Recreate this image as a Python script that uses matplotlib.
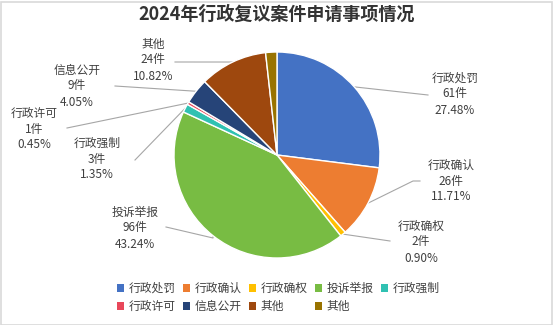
import matplotlib
matplotlib.use('Agg')
import matplotlib.pyplot as plt
from matplotlib.patches import Rectangle
import numpy as np

plt.rcParams['font.family'] = ['Noto Sans CJK SC', 'DejaVu Sans']

# data
categories = ['行政处罚', '行政确认', '行政确权', '投诉举报', '行政强制',
              '行政许可', '信息公开', '其他', '其他']
counts = [61, 26, 2, 96, 3, 1, 9, 24, 4]
pct_labels = ['27.48%', '11.71%', '0.90%', '43.24%', '1.35%',
              '0.45%', '4.05%', '10.82%', None]
colors = ['#4472C4', '#ED7D31', '#FFC000', '#78BC43', '#30C1B2',
          '#E8475A', '#264478', '#9E480E', '#997300']

W, H = 554, 325
fig = plt.figure(figsize=(W / 100, H / 100), dpi=100)
ax = fig.add_axes([0, 0, 1, 1])

cx, cy, r = 277, 155, 103  # image pixel coords (y down)


def Y(y):
    return H - y


wedges, _ = ax.pie(counts, colors=colors, startangle=90, counterclock=False,
                   center=(cx, Y(cy)), radius=r,
                   wedgeprops=dict(edgecolor='white', linewidth=1))
ax.set_xlim(0, W)
ax.set_ylim(0, H)
ax.set_aspect('auto')
ax.axis('off')

# label layout: text center (x, y of first line), leader points (image coords)
layout = {
    0: ((455, 78), [(428, 95)]),
    1: ((451, 165), [(413, 181), (420, 181)]),
    2: ((421, 226), [(390, 241)]),
    3: ((135, 212), [(213, 238), (166, 227)]),
    4: ((97, 143), [(135, 160)]),
    5: ((34, 113), [(67, 128)]),
    6: ((77, 70), [(115, 86)]),
    7: ((153, 44), [(175, 62)]),
}
txt_color = '#404040'
for i, w in enumerate(wedges):
    if i not in layout:
        continue
    (tx, ty), pts = layout[i]
    ang = np.deg2rad((w.theta1 + w.theta2) / 2)
    ex, ey = cx + r * np.cos(ang), cy - r * np.sin(ang)
    xs = [ex] + [p[0] for p in pts]
    ys = [ey] + [p[1] for p in pts]
    ax.plot(xs, [Y(v) for v in ys], color='#A6A6A6', lw=0.8, zorder=0)
    lines = [categories[i], f'{counts[i]}件', pct_labels[i]]
    for k, s in enumerate(lines):
        ax.text(tx, Y(ty + 16 * k), s, ha='center', va='center',
                fontsize=8.5, color=txt_color)

fig.text(0.5, Y(14) / H, '2024年行政复议案件申请事项情况', ha='center',
         va='center', fontsize=13, fontweight='bold', color='#333333')

# legend filled row by row (matplotlib fills columns first)
order = [0, 5, 1, 6, 2, 7, 3, 8, 4]
leg = fig.legend([wedges[i] for i in order], [categories[i] for i in order],
                 ncol=5, loc='upper left',
                 bbox_to_anchor=(117 / W, Y(282) / H), frameon=False,
                 fontsize=8.5, handlelength=0.6, handleheight=0.6,
                 handletextpad=0.4, columnspacing=0.6, labelspacing=0.45,
                 borderpad=0, borderaxespad=0)
for t in leg.get_texts():
    t.set_color(txt_color)
for h in leg.legend_handles:
    h.set_edgecolor('none')

fig.patches.append(Rectangle((0.5 / W, 0.5 / H), 1 - 2.5 / W, 1 - 2.5 / H,
                             transform=fig.transFigure, fill=False,
                             edgecolor='#D9D9D9', lw=1.2))

fig.savefig('out.png', dpi=100)
